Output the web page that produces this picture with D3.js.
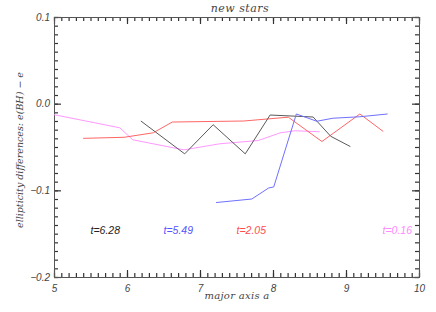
<!DOCTYPE html>
<html>
<head>
<meta charset="utf-8">
<script src="https://cdn.jsdelivr.net/npm/d3@7"></script>
<style>
  body { margin: 0; background: #fff; }
  svg { display: block; }
  .tick line { stroke: #333; stroke-width: 1.2px; }
</style>
</head>
<body>
<svg id="chart"></svg>
<script>
// series: major axis a / ellipticity difference
const seriesNames = ['t=0.16', 't=2.05', 't=6.28', 't=5.49'];
const seriesColors = ['#ff99ff', '#ff6666', '#5a5a5a', '#7070ff'];
const labelColors = ['#ff88ff', '#ff4d4d', '#222222', '#5555ff'];

const pinkA = [5.0, 5.90, 6.08, 6.78, 7.27, 7.80, 8.10, 8.30, 8.64];
const pinkE = [-0.0127, -0.0278, -0.0417, -0.0533, -0.0463, -0.0425, -0.0336, -0.0313, -0.0324];

const redA = [5.40, 5.96, 6.36, 6.62, 7.60, 8.21, 8.67, 9.19, 9.51];
const redE = [-0.0400, -0.0388, -0.0336, -0.0212, -0.0200, -0.0156, -0.0437, -0.0119, -0.0321];

const grayA = [6.19, 6.79, 7.18, 7.62, 7.96, 8.55, 8.79, 9.06];
const grayE = [-0.0200, -0.0579, -0.0243, -0.0579, -0.0131, -0.0154, -0.0376, -0.0495];

const blueA = [7.22, 7.71, 7.94, 8.01, 8.32, 8.60, 8.82, 9.19, 9.57];
const blueE = [-0.1141, -0.1100, -0.0973, -0.0961, -0.0119, -0.0203, -0.0168, -0.0151, -0.0119];

// label positions (data coords)
const labelA = [9.5, 7.5, 5.5, 6.5];
const labelE = -0.15;

const xTicks = [5, 6, 7, 8, 9, 10];
const yTicks = [0.1, 0.0, -0.1, -0.2];

const WIDTH = 436;
const HEIGHT = 312;
const MARGIN = { top: 17, right: 17, bottom: 35, left: 54 };

const chartW = WIDTH - MARGIN.left - MARGIN.right;
const chartH = HEIGHT - MARGIN.top - MARGIN.bottom;

/* global d3 */
const $svg = d3.select('#chart').attr('width', WIDTH).attr('height', HEIGHT);
const $g = $svg.append('g').attr('transform', `translate(${MARGIN.left},${MARGIN.top})`);

const scaleX = d3.scaleLinear().domain([5, 10]).range([0, chartW]);
const scaleY = d3.scaleLinear().domain([-0.2, 0.1]).range([chartH, 0]);

const minorX = d3.range(50, 101).map(d => d / 10);
const minorY = d3.range(-20, 11).map(d => d / 100);

const fmtY = d => d3.format('.1f')(d).replace('-', '\u2212');

function drawAxis(axisFn, scale, transform, major, minor, fmt, majorLen, minorLen, pad) {
  const $minor = $g.append('g')
    .attr('transform', transform)
    .call(axisFn(scale).tickValues(minor).tickSize(-minorLen).tickFormat(''));
  const $major = $g.append('g')
    .attr('transform', transform)
    .call(axisFn(scale).tickValues(major).tickSize(-majorLen).tickPadding(pad).tickFormat(fmt));
  $minor.select('.domain').remove();
  $major.select('.domain').remove();
  $major.selectAll('.tick text')
    .attr('fill', '#444')
    .style('font-family', '"Liberation Sans", sans-serif')
    .style('font-style', 'italic')
    .style('font-size', '10px');
}

drawAxis(d3.axisBottom, scaleX, `translate(0,${chartH})`, xTicks, minorX, d3.format('d'), 7, 4, 8);
drawAxis(d3.axisTop, scaleX, 'translate(0,0)', xTicks, minorX, '', 7, 4, 0);
drawAxis(d3.axisLeft, scaleY, 'translate(0,0)', yTicks, minorY, fmtY, 7, 4, 4);
drawAxis(d3.axisRight, scaleY, `translate(${chartW},0)`, yTicks, minorY, '', 7, 4, 0);

// frame
$g.append('rect')
  .attr('x', 0.5).attr('y', 0.5)
  .attr('width', chartW).attr('height', chartH)
  .attr('fill', 'none').attr('stroke', '#555').attr('stroke-width', 1);

// lines
const series = [
  [pinkA, pinkE],
  [redA, redE],
  [grayA, grayE],
  [blueA, blueE]
];

const lineGen = d3.line()
  .x(d => scaleX(d[0]))
  .y(d => scaleY(d[1]));

series.forEach((s, i) => {
  const pts = s[0].map((a, j) => [a, s[1][j]]);
  $g.append('path')
    .datum(pts)
    .attr('d', lineGen)
    .attr('fill', 'none')
    .attr('stroke', seriesColors[i])
    .attr('stroke-width', 1);
  $g.append('text')
    .attr('x', scaleX(labelA[i]))
    .attr('y', scaleY(labelE))
    .attr('fill', labelColors[i])
    .style('font-family', '"Liberation Sans", sans-serif')
    .style('font-style', 'italic')
    .style('font-size', '10.5px')
    .text(seriesNames[i]);
});

// title & axis labels
$svg.append('text')
  .attr('x', 240).attr('y', 12)
  .attr('text-anchor', 'middle')
  .attr('fill', '#444')
  .style('font-family', '"DejaVu Serif", serif')
  .style('font-style', 'italic')
  .style('font-size', '11px')
  .style('letter-spacing', '0.5px')
  .text('new stars');

$svg.append('text')
  .attr('x', 237).attr('y', 299)
  .attr('text-anchor', 'middle')
  .attr('fill', '#444')
  .style('font-family', '"DejaVu Serif", serif')
  .style('font-style', 'italic')
  .style('font-size', '10px')
  .style('letter-spacing', '0.3px')
  .text('major axis a');

$svg.append('text')
  .attr('transform', `translate(23,150) rotate(-90)`)
  .attr('text-anchor', 'middle')
  .attr('fill', '#444')
  .style('font-family', '"DejaVu Serif", serif')
  .style('font-style', 'italic')
  .style('font-size', '9.5px')
  .text('ellipticity differences: e(BH) \u2212 e');
</script>
</body>
</html>
